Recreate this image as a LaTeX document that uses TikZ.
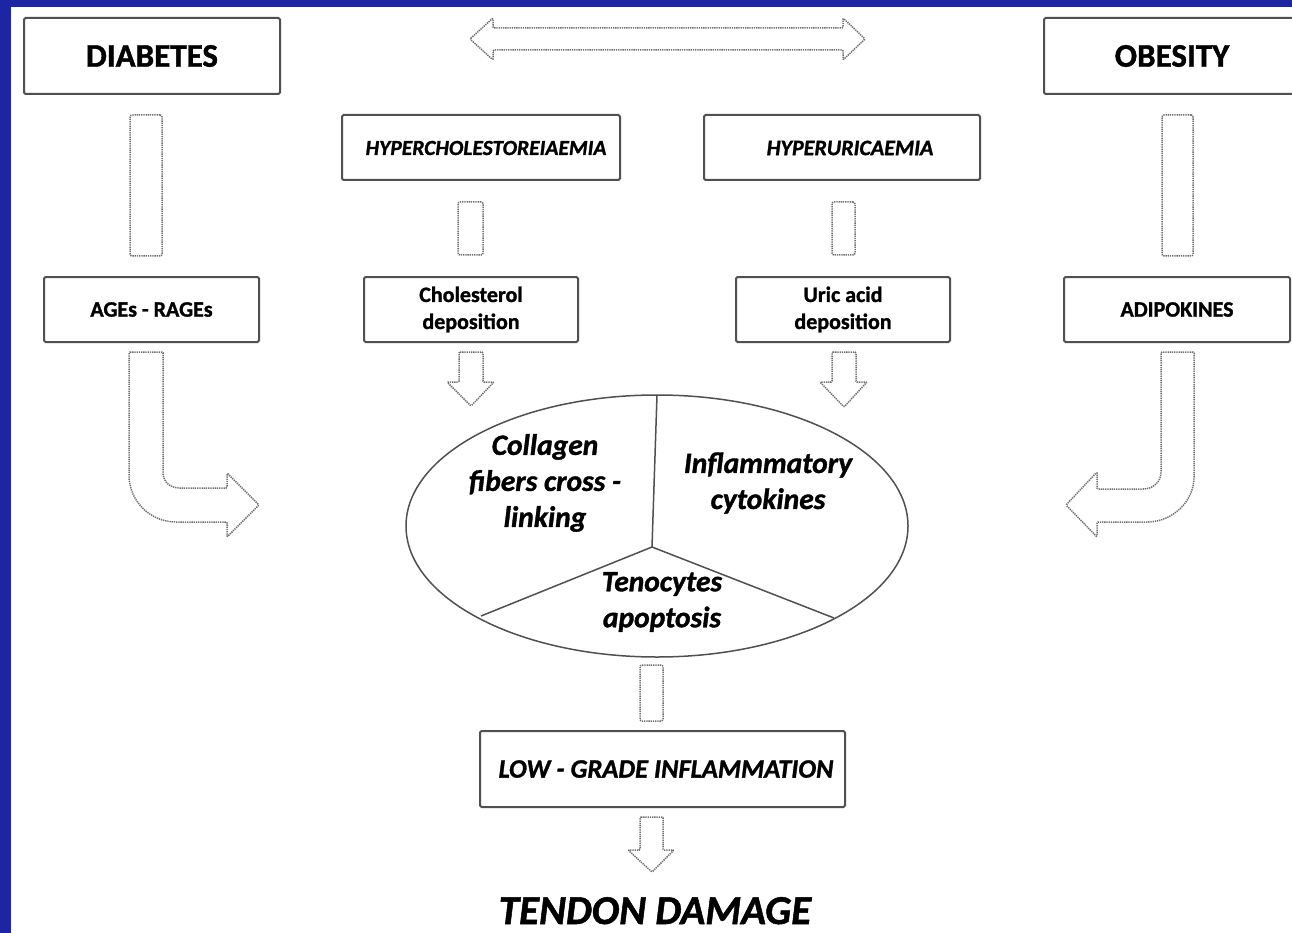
\documentclass[tikz,border=0pt]{standalone}
\usepackage{fontspec}
\setmainfont{Carlito}[BoldFeatures={FakeBold=1.2}, BoldItalicFeatures={FakeBold=1.2}]
\usetikzlibrary{shapes.geometric}
\definecolor{frameblue}{RGB}{28,38,165}
\definecolor{boxline}{RGB}{80,80,80}
\definecolor{arrline}{RGB}{110,110,110}
\tikzset{
  box/.style={draw=boxline, line width=2pt, rounded corners=1.5pt, inner sep=0pt, fill=white},
  blk/.style={draw=arrline, line width=1.5pt, dash pattern=on 1.3pt off 0.9pt, rounded corners=1pt, fill=white},
  bar/.style={draw=arrline, line width=1.5pt, dash pattern=on 1.3pt off 0.9pt, rounded corners=2pt, inner sep=0pt},
  divline/.style={draw=boxline, line width=1.5pt},
  bigtxt/.style={font=\bfseries\fontsize{33}{33}\selectfont, inner sep=0pt},
  captxt/.style={font=\bfseries\itshape\fontsize{22}{22}\selectfont, inner sep=0pt},
  smalltxt/.style={font=\bfseries\fontsize{22}{27}\selectfont, align=center, inner sep=0pt},
  elltxt/.style={font=\bfseries\itshape\fontsize{29.5}{36}\selectfont, align=center, inner sep=0pt},
}
\begin{document}
\begin{tikzpicture}[x=1pt,y=-1pt]
\useasboundingbox (0,0) rectangle (1292,933);
\fill[frameblue] (0,0) rectangle (1292,933);
\fill[white] (11,7) rectangle (1292,933);
\begin{scope}
\clip (11,7) rectangle (1292,933);
% top boxes
\draw[box] (24,18) rectangle (280,94);
\node[bigtxt] (diab) at (152,56) {DIABETES};
\draw[box] (1044,18) rectangle (1300,94);
\node[bigtxt] (obes) at (1172,56) {OBESITY};
% double arrow
\draw[blk] (470,39) -- (493,18) -- (493,28) -- (843,28) -- (843,18) -- (865,39) -- (843,60) -- (843,50) -- (493,50) -- (493,60) -- cycle;
% second-row boxes
\draw[box] (342,115) rectangle (620,180);
\node[captxt, font=\bfseries\itshape\fontsize{21.5}{21.5}\selectfont] (hchol) at (486,148) {HYPERCHOLESTOREIAEMIA};
\draw[box] (704,115) rectangle (980,180);
\node[captxt] (huric) at (850,148) {HYPERURICAEMIA};
% bars
\node[bar, minimum width=32pt, minimum height=141pt] (b1) at (146,185.5) {};
\node[bar, minimum width=31pt, minimum height=141pt] (b2) at (1177.5,185.5) {};
\node[bar, minimum width=25pt, minimum height=53pt] (b3) at (470.5,228.5) {};
\node[bar, minimum width=23pt, minimum height=53pt] (b4) at (843.5,228.5) {};
% third-row boxes
\draw[box] (44,277) rectangle (259,342);
\node[smalltxt] (ages) at (151.5,309.5) {AGEs - RAGEs};
\draw[box] (364,277) rectangle (578,342);
\node[smalltxt] (chol) at (471,309.5) {Cholesterol\\deposition};
\draw[box] (736,277) rectangle (950,342);
\node[smalltxt] (uric) at (843,309.5) {Uric acid\\deposition};
\draw[box] (1064,277) rectangle (1290,342);
\node[smalltxt] (adip) at (1177,309.5) {ADIPOKINES};
% down arrows
\draw[blk] (459,352) -- (483,352) -- (483,382) -- (494,382) -- (471,406) -- (447,382) -- (459,382) -- cycle;
\draw[blk] (832,352) -- (856,352) -- (856,382) -- (867,382) -- (844,407) -- (820,382) -- (832,382) -- cycle;
% curved arrows
\draw[blk] (129,352) -- (163,352) -- (163,471) .. controls (163,482) and (170,488) .. (181,488) -- (227,488) -- (227,473) -- (259,505) -- (227,537) -- (227,522) -- (177,522) .. controls (150,522) and (129,501) .. (129,474) -- cycle;
\draw[blk] (1194,352) -- (1161,352) -- (1161,471) .. controls (1161,482) and (1153,489) .. (1142,489) -- (1097,489) -- (1097,472) -- (1066,505) -- (1097,537) -- (1097,522) -- (1146,522) .. controls (1173,522) and (1194,501) .. (1194,476) -- cycle;
% ellipse
\draw[divline] (657,526) ellipse [x radius=251pt, y radius=131pt];
\coordinate (cen) at (652,547);
\coordinate (etop) at (657,395);
\coordinate (eleft) at (481,616);
\coordinate (eright) at (834,618);
\draw[divline] (cen) -- (etop);
\draw[divline] (cen) -- (eleft);
\draw[divline] (cen) -- (eright);
\node[elltxt] (coll) at (545,483) {Collagen\\fibers cross -\\linking};
\node[elltxt] (infl) at (768,483) {Inflammatory\\cytokines};
\node[elltxt] (teno) at (662,602) {Tenocytes\\apoptosis};
% bottom
\node[bar, minimum width=23pt, minimum height=56pt] (b5) at (651.5,693) {};
\draw[box] (480,731) rectangle (845,807);
\node[captxt, font=\bfseries\itshape\fontsize{26.5}{26.5}\selectfont] (low) at (666,769) {LOW - GRADE INFLAMMATION};
\draw[blk] (640,817) -- (663,817) -- (663,850) -- (674,850) -- (652,872) -- (628,850) -- (640,850) -- cycle;
\node[font=\bfseries\itshape\fontsize{41}{41}\selectfont, inner sep=0pt, anchor=base] (tend) at (655,924) {TENDON DAMAGE};
\end{scope}
\end{tikzpicture}
\end{document}
